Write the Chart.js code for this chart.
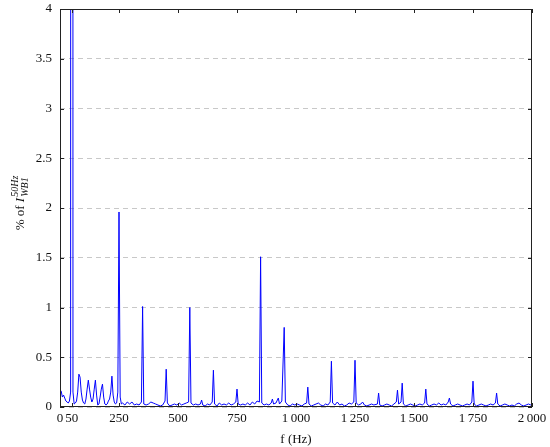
<!DOCTYPE html>
<html>
<head>
<meta charset="utf-8">
<script src="https://cdn.jsdelivr.net/npm/chart.js@4"></script>
<style>
  html, body { margin: 0; padding: 0; background: #fff; }
  #wrap { width: 550px; height: 447px; }
</style>
</head>
<body>
<div id="wrap"><canvas id="spectrumChart"></canvas></div>
<script>
// Harmonic spectrum, % of the 50 Hz fundamental
const freqHz = [
    0, 5, 10, 15, 20, 25, 30, 35, 40, 45,
    50, 55, 60, 65, 70, 75, 80, 85, 90, 95,
    100, 105, 110, 115, 120, 125, 130, 135, 140, 145,
    150, 155, 160, 165, 170, 175, 180, 185, 190, 195,
    200, 205, 210, 215, 220, 225, 230, 235, 240, 245,
    250, 255, 260, 265, 275, 285, 295, 305, 315, 325,
    335, 345, 350, 355, 365, 375, 385, 395, 405, 415,
    425, 435, 445, 450, 455, 465, 475, 485, 495, 505,
    515, 525, 535, 545, 550, 555, 565, 575, 585, 595,
    600, 605, 615, 625, 635, 645, 650, 655, 665, 675,
    685, 695, 705, 715, 725, 735, 745, 750, 755, 765,
    775, 785, 795, 805, 815, 825, 835, 845, 850, 855,
    865, 875, 885, 895, 900, 905, 915, 925, 930, 940,
    950, 955, 965, 975, 985, 995, 1005, 1015, 1025, 1035,
    1045, 1050, 1055, 1065, 1075, 1085, 1095, 1105, 1115, 1125,
    1135, 1145, 1150, 1155, 1165, 1175, 1185, 1195, 1205, 1215,
    1225, 1235, 1245, 1250, 1255, 1265, 1275, 1282, 1290, 1300,
    1310, 1320, 1330, 1345, 1350, 1355, 1365, 1375, 1385, 1395,
    1405, 1415, 1425, 1430, 1435, 1445, 1450, 1455, 1465, 1475,
    1485, 1495, 1505, 1515, 1525, 1535, 1545, 1550, 1555, 1565,
    1575, 1585, 1595, 1605, 1615, 1625, 1635, 1645, 1650, 1655,
    1665, 1675, 1685, 1695, 1705, 1715, 1725, 1735, 1745, 1750,
    1755, 1765, 1775, 1785, 1795, 1805, 1815, 1825, 1835, 1845,
    1850, 1855, 1865, 1875, 1885, 1895, 1905, 1915, 1925, 1935,
    1945, 1955, 1965, 1975, 1985, 1995, 2000
];
const pctOfFund = [
    0.15, 0.16, 0.10, 0.12, 0.09, 0.06, 0.05, 0.04, 0.06, 0.15,
    100, 0.15, 0.03, 0.04, 0.06, 0.15, 0.33, 0.30, 0.15, 0.07,
    0.04, 0.03, 0.08, 0.18, 0.27, 0.18, 0.10, 0.05, 0.08, 0.18,
    0.27, 0.12, 0.02, 0.03, 0.10, 0.18, 0.23, 0.10, 0.03, 0.02,
    0.03, 0.06, 0.08, 0.15, 0.31, 0.12, 0.05, 0.03, 0.04, 0.15,
    1.96, 0.10, 0.03, 0.04, 0.02, 0.05, 0.03, 0.05, 0.02, 0.03,
    0.02, 0.05, 1.01, 0.03, 0.02, 0.03, 0.05, 0.04, 0.03, 0.02,
    0.01, 0.02, 0.06, 0.38, 0.04, 0.01, 0.02, 0.03, 0.02, 0.04,
    0.02, 0.03, 0.04, 0.05, 1.00, 0.04, 0.02, 0.03, 0.02, 0.03,
    0.07, 0.02, 0.01, 0.03, 0.02, 0.05, 0.37, 0.03, 0.01, 0.04,
    0.02, 0.03, 0.02, 0.04, 0.02, 0.03, 0.05, 0.18, 0.03, 0.02,
    0.03, 0.02, 0.04, 0.02, 0.05, 0.03, 0.06, 0.05, 1.51, 0.04,
    0.02, 0.03, 0.02, 0.04, 0.08, 0.03, 0.04, 0.09, 0.03, 0.06,
    0.80, 0.05, 0.02, 0.01, 0.03, 0.02, 0.03, 0.02, 0.01, 0.03,
    0.04, 0.20, 0.03, 0.01, 0.02, 0.03, 0.04, 0.02, 0.01, 0.03,
    0.02, 0.05, 0.46, 0.04, 0.02, 0.05, 0.02, 0.03, 0.01, 0.02,
    0.04, 0.03, 0.05, 0.47, 0.04, 0.02, 0.03, 0.05, 0.02, 0.01,
    0.02, 0.03, 0.02, 0.03, 0.14, 0.02, 0.01, 0.02, 0.03, 0.02,
    0.01, 0.03, 0.05, 0.17, 0.03, 0.05, 0.24, 0.03, 0.01, 0.02,
    0.03, 0.02, 0.01, 0.02, 0.03, 0.02, 0.04, 0.18, 0.03, 0.01,
    0.02, 0.03, 0.02, 0.04, 0.02, 0.03, 0.02, 0.05, 0.09, 0.03,
    0.01, 0.02, 0.03, 0.02, 0.01, 0.02, 0.03, 0.02, 0.05, 0.26,
    0.03, 0.01, 0.02, 0.03, 0.02, 0.01, 0.02, 0.03, 0.02, 0.04,
    0.14, 0.03, 0.01, 0.02, 0.03, 0.02, 0.01, 0.02, 0.01, 0.03,
    0.04, 0.02, 0.01, 0.02, 0.03, 0.02, 0.01
];
const xTickValues = [0, 50, 250, 500, 750, 1000, 1250, 1500, 1750, 2000];
const yTickValues = [0, 0.5, 1, 1.5, 2, 2.5, 3, 3.5, 4];

const serif = '"Liberation Serif", "DejaVu Serif", serif';

// pgfplots-like frame with inward tick marks
const framePlugin = {
    id: 'frame',
    afterDraw(chart) {
        const { ctx, chartArea: a, scales } = chart;
        ctx.save();
        ctx.strokeStyle = '#222';
        ctx.lineWidth = 1;
        ctx.strokeRect(a.left + 0.5, a.top + 0.5, a.right - a.left - 1, a.bottom - a.top - 1);
        ctx.beginPath();
        xTickValues.forEach(v => {
            const x = Math.round(scales.x.getPixelForValue(v)) + 0.5;
            ctx.moveTo(x, a.bottom); ctx.lineTo(x, a.bottom - 4);
            ctx.moveTo(x, a.top); ctx.lineTo(x, a.top + 4);
        });
        yTickValues.forEach(v => {
            const y = Math.round(scales.y.getPixelForValue(v)) + 0.5;
            ctx.moveTo(a.left, y); ctx.lineTo(a.left + 4, y);
            ctx.moveTo(a.right, y); ctx.lineTo(a.right - 4, y);
        });
        ctx.stroke();
        ctx.restore();
    }
};

// y title with sub/superscript: % of I_WB1^50Hz
const yTitlePlugin = {
    id: 'yTitle',
    afterDraw(chart) {
        const { ctx } = chart;
        const main = '13px ' + serif;
        const ital = 'italic 13px ' + serif;
        const small = 'italic 10px ' + serif;
        ctx.save();
        ctx.translate(24, 203);
        ctx.rotate(-Math.PI / 2);
        ctx.fillStyle = '#111';
        ctx.textBaseline = 'alphabetic';
        ctx.font = main; const w1 = ctx.measureText('% of ').width;
        ctx.font = ital; const w2 = ctx.measureText('I').width;
        ctx.font = small;
        const w3 = Math.max(ctx.measureText('50Hz').width, ctx.measureText('WB1').width);
        let x = -(w1 + w2 + 1 + w3) / 2;
        ctx.font = main; ctx.fillText('% of ', x, 0); x += w1;
        ctx.font = ital; ctx.fillText('I', x, 0); x += w2 + 1;
        ctx.font = small;
        ctx.fillText('50Hz', x, -6);
        ctx.fillText('WB1', x, 4);
        ctx.restore();
    }
};

new Chart(document.getElementById('spectrumChart'), {
    type: 'line',
    data: {
        datasets: [{
            data: freqHz.map((f, i) => ({ x: f, y: pctOfFund[i] })),
            borderColor: '#0000ff',
            borderWidth: 1,
            pointRadius: 0,
            tension: 0,
            fill: false
        }]
    },
    options: {
        responsive: true,
        maintainAspectRatio: false,
        animation: false,
        layout: { padding: { top: 9, right: 18, left: 0, bottom: 0 } },
        plugins: {
            legend: { display: false },
            tooltip: { enabled: false }
        },
        scales: {
            x: {
                type: 'linear',
                min: 0,
                max: 2000,
                afterBuildTicks: s => { s.ticks = xTickValues.map(v => ({ value: v })); },
                afterFit: s => { s.height = 40; s.paddingLeft = 0; s.paddingRight = 0; },
                grid: { display: false, drawTicks: false },
                border: { display: false },
                ticks: {
                    autoSkip: false,
                    maxRotation: 0,
                    padding: 4,
                    color: '#111',
                    font: { family: serif, size: 13 },
                    callback: v => v >= 1000 ? String(v).replace(/(\d)(\d{3})$/, '$1\u2009$2') : String(v)
                },
                title: {
                    display: true,
                    text: 'f (Hz)',
                    color: '#111',
                    font: { family: serif, size: 13 },
                    padding: { top: 2, bottom: 0 }
                }
            },
            y: {
                min: 0,
                max: 4,
                afterBuildTicks: s => { s.ticks = yTickValues.map(v => ({ value: v })); },
                afterFit: s => { s.width = 60; s.paddingTop = 0; s.paddingBottom = 0; },
                grid: { color: '#c8c8c8', drawTicks: false },
                border: { display: false, dash: [5, 4] },
                ticks: {
                    padding: 8,
                    color: '#111',
                    font: { family: serif, size: 13 },
                    callback: v => String(v)
                }
            }
        }
    },
    plugins: [framePlugin, yTitlePlugin]
});
</script>
</body>
</html>
